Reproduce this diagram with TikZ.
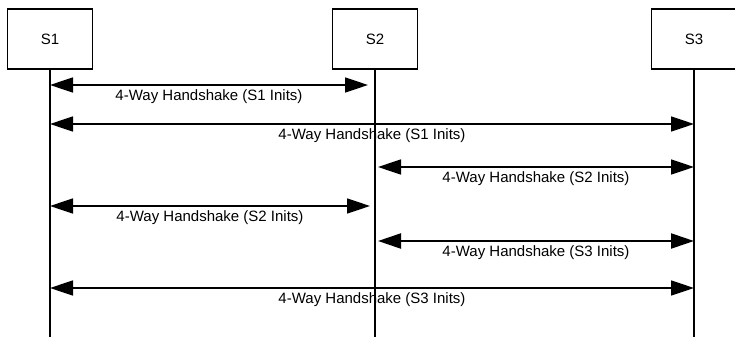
\documentclass[tikz,border=0pt]{standalone}
\usepackage{fontspec}
\setmainfont{Liberation Sans}
\usetikzlibrary{arrows.meta}
\begin{document}
\begin{tikzpicture}[x=1pt, y=-1pt, font=\fontsize{15}{18}\selectfont]
	\tikzstyle{station}   = [rectangle, draw=black, line width=1.2pt, minimum width=85pt, minimum height=60pt, inner sep=0pt]
	\tikzstyle{handshake} = [{Triangle[length=23pt, width=15pt]}-{Triangle[length=23pt, width=15pt]}]
	\tikzstyle{caption}   = [midway, anchor=base, yshift=-15pt, inner sep=0pt]

	\useasboundingbox (0,0) rectangle (735,337);

	\foreach \name/\x in {S1/50, S2/375, S3/694} {
		\node[station] (\name) at (\x, 39) {\name};
		\coordinate (\name-end) at (\x, 337);
		\draw[line width=1.2pt] (\name) -- (\name-end);
	}

	\foreach \i/\y/\fx/\tx/\who/\lw in {1/85/50/368/S1/1.6, 2/124/50/694/S1/1.6, 3/167/378/694/S2/1.6, 4/206/50/370/S2/1.6, 5/241/378/694/S3/2.2, 6/288/50/694/S3/1.6} {
		\coordinate (m\i-l) at (\fx, \y);
		\coordinate (m\i-r) at (\tx, \y);
		\draw[handshake, line width=\lw pt] (m\i-l) -- node[caption] {4-Way Handshake (\who\ Inits)} (m\i-r);
	}

\end{tikzpicture}
\end{document}
